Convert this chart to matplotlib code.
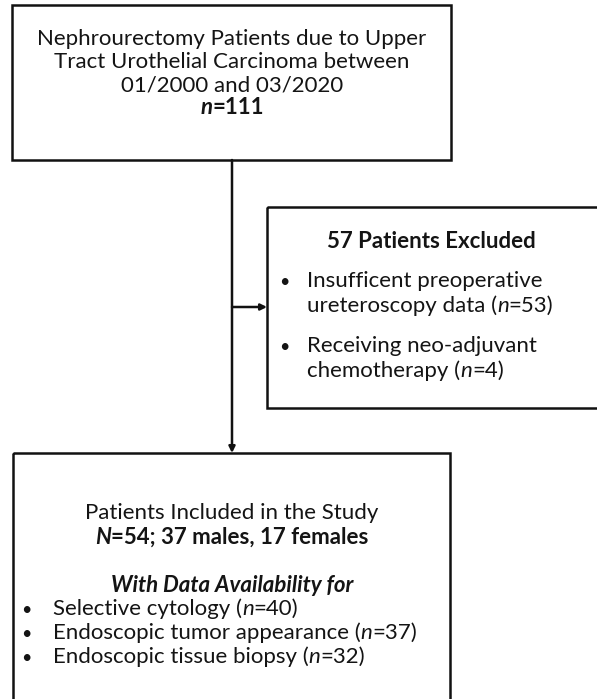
import matplotlib
matplotlib.use("Agg")
import matplotlib.pyplot as plt
from matplotlib.patches import Rectangle

# ---- data ----
total_n = 111
excluded_n = 57
excl_reasons = ["Insufficent preoperative\nureteroscopy data", "Receiving neo-adjuvant\nchemotherapy"]
excl_counts = [53, 4]
included_n = 54
males_n = 37
females_n = 17
avail_items = ["Selective cytology", "Endoscopic tumor appearance", "Endoscopic tissue biopsy"]
avail_counts = [40, 37, 32]
period = "01/2000 and 03/2020"

FONT = "Lato"
W, H = 597, 699
fig = plt.figure(figsize=(W / 100, H / 100), dpi=100)
ax = fig.add_axes([0, 0, 1, 1])
ax.set_xlim(0, W)
ax.set_ylim(H, 0)
ax.axis("off")
renderer = fig.canvas.get_renderer()

# fit font size to the reference width of the first line
probe = ax.text(0, 0, "Nephrourectomy Patients due to Upper", fontsize=10, family=FONT)
pw = probe.get_window_extent(renderer).width
probe.remove()
FS = 10 * 389 / pw
TXT = "#141414"


def rich(x, y, segs, ha="center", fs=None):
    fs = fs or FS
    objs = []
    widths = []
    for s, st, wt in segs:
        t = ax.text(0, y, s, fontsize=fs, family=FONT, fontstyle=st,
                    fontweight=wt, va="center", ha="left", color=TXT)
        widths.append(t.get_window_extent(renderer).width)
        objs.append(t)
    tot = sum(widths)
    cx = x - tot / 2 if ha == "center" else x
    for t, w in zip(objs, widths):
        t.set_x(cx)
        cx += w
    return objs


def bullet(x, y):
    ax.text(x, y, "\u2022", fontsize=FS * 0.8, family=FONT, va="center",
            ha="center", color=TXT)


LW = 1.8
# boxes
ax.add_patch(Rectangle((12, 5), 439, 155, fill=False, lw=LW, ec="#111111"))
ax.add_patch(Rectangle((267, 207), 340, 201, fill=False, lw=LW, ec="#111111"))
ax.add_patch(Rectangle((13, 453), 437, 260, fill=False, lw=LW, ec="#111111"))

# arrows
ax.annotate("", xy=(232, 453), xytext=(232, 160),
            arrowprops=dict(arrowstyle="-|>", lw=LW, color="#111111",
                            mutation_scale=9, shrinkA=0, shrinkB=0))
ax.annotate("", xy=(267, 307), xytext=(232, 307),
            arrowprops=dict(arrowstyle="-|>", lw=LW, color="#111111",
                            mutation_scale=9, shrinkA=0, shrinkB=0))

# top box
cx = 232
rich(cx, 39, [("Nephrourectomy Patients due to Upper", "normal", "normal")])
rich(cx, 62, [("Tract Urothelial Carcinoma between", "normal", "normal")])
rich(cx, 85, [(period, "normal", "normal")])
rich(cx, 108, [("n", "italic", "bold"), ("=%d" % total_n, "normal", "bold")])

# excluded box
rich(431, 242, [("%d Patients Excluded" % excluded_n, "normal", "bold")])
ys = [(281, 306), (346, 371)]
for (y1, y2), reason, c in zip(ys, excl_reasons, excl_counts):
    l1, l2 = reason.split("\n")
    bullet(284, y1 + 1)
    rich(307, y1, [(l1, "normal", "normal")], ha="left")
    rich(307, y2, [(l2 + " (", "normal", "normal"), ("n", "italic", "normal"),
                   ("=%d)" % c, "normal", "normal")], ha="left")

# included box
rich(cx, 513, [("Patients Included in the Study", "normal", "normal")])
rich(cx, 537, [("N", "italic", "bold"),
               ("=%d; %d males, %d females" % (included_n, males_n, females_n), "normal", "bold")])
rich(cx, 585, [("With Data Availability for", "italic", "bold")])
for i, (item, c) in enumerate(zip(avail_items, avail_counts)):
    y = 609 + 24 * i
    bullet(26, y + 1)
    rich(53, y, [(item + " (", "normal", "normal"), ("n", "italic", "normal"),
                 ("=%d)" % c, "normal", "normal")], ha="left")

fig.savefig("out.png", dpi=100)
